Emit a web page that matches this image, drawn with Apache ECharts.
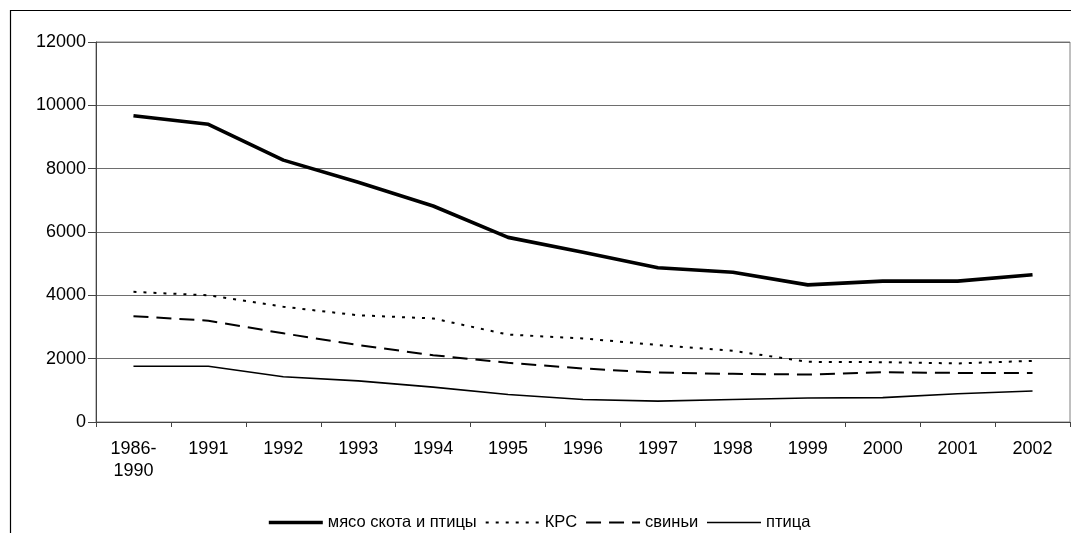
<!DOCTYPE html>
<html>
<head>
<meta charset="utf-8">
<script src="https://cdn.jsdelivr.net/npm/echarts@6/dist/echarts.min.js"></script>
<style>
  html, body { margin: 0; padding: 0; background: #fff; }
  #chart { width: 1071px; height: 533px; }
</style>
</head>
<body>
<div id="chart"></div>
<script>
// Years (first one is the 1986–1990 average)
const categories = ['1986-\n1990', '1991', '1992', '1993', '1994', '1995', '1996',
  '1997', '1998', '1999', '2000', '2001', '2002'];

// Meat production, thousand tonnes
const meatTotal = [9670, 9400, 8270, 7570, 6820, 5830, 5360, 4870, 4730, 4330, 4450, 4450, 4650];
const cattle    = [4110, 4000, 3640, 3370, 3270, 2760, 2640, 2430, 2250, 1900, 1890, 1850, 1930];
const pigs      = [3340, 3200, 2800, 2430, 2110, 1870, 1690, 1560, 1520, 1500, 1570, 1550, 1550];
const poultry   = [1760, 1760, 1430, 1300, 1100, 870, 710, 660, 710, 760, 770, 890, 980];

const yTicks = { min: 0, max: 12000, interval: 2000 };

const seriesNames = ['мясо скота и птицы', 'КРС', 'свиньи', 'птица'];

// Stroke for each series (also used for the legend samples)
const strokes = [
  { width: 3.6, type: 'solid' },
  { width: 2, type: [3, 7] },
  { width: 2, type: [15, 8] },
  { width: 1.6, type: 'solid' }
];

const chart = echarts.init(document.getElementById('chart'), null, { renderer: 'canvas' });

const FONT = 'Liberation Sans';

function lineSeries(name, data, lineStyle) {
  return {
    name: name,
    type: 'line',
    data: data,
    symbol: 'none',
    smooth: false,
    lineStyle: Object.assign({ color: '#000', cap: 'butt', join: 'round' }, lineStyle),
    itemStyle: { color: '#000' },
    emphasis: { disabled: true },
    animation: false
  };
}

chart.setOption({
  animation: false,
  backgroundColor: '#fff',
  textStyle: { fontFamily: FONT, color: '#000' },
  grid: {
    left: 96, right: 1, top: 42, bottom: 111,
    show: true, borderColor: '#808080', borderWidth: 1, backgroundColor: 'transparent'
  },
  xAxis: {
    type: 'category',
    data: categories,
    boundaryGap: true,
    axisLine: { lineStyle: { color: '#444', width: 1 } },
    axisTick: { show: true, alignWithLabel: false, length: 5, lineStyle: { color: '#444' } },
    axisLabel: {
      interval: 0, margin: 16, color: '#000', fontFamily: FONT, fontSize: 18, lineHeight: 22
    },
    splitLine: { show: false }
  },
  yAxis: {
    type: 'value',
    min: yTicks.min, max: yTicks.max, interval: yTicks.interval,
    axisLine: { show: true, lineStyle: { color: '#444', width: 1 } },
    axisTick: { show: true, length: 8, lineStyle: { color: '#444' } },
    axisLabel: {
      margin: 10, color: '#000', fontFamily: FONT, fontSize: 18,
      formatter: function (v) { return String(v); }
    },
    splitLine: { show: true, lineStyle: { color: '#6e6e6e', width: 1 } }
  },
  legend: {
    data: seriesNames.map(function (n, i) {
      return {
        name: n,
        lineStyle: { color: '#000', width: strokes[i].width, type: strokes[i].type, cap: 'butt' }
      };
    }),
    left: 262, top: 509,
    itemWidth: 54, itemHeight: 14, itemGap: 8,
    // line samples only, no marker in the middle
    itemStyle: { opacity: 0, borderWidth: 0 },
    textStyle: { fontFamily: FONT, fontSize: 16.5, color: '#000' },
    selectedMode: false
  },
  graphic: [
    {
      type: 'polyline',
      shape: { points: [[10.5, 533], [10.5, 10.5], [1071, 10.5]] },
      style: { stroke: '#000', lineWidth: 1.2, fill: null },
      silent: true
    }
  ],
  series: seriesNames.map(function (n, i) {
    return lineSeries(n, [meatTotal, cattle, pigs, poultry][i], strokes[i]);
  })
});
</script>
</body>
</html>
